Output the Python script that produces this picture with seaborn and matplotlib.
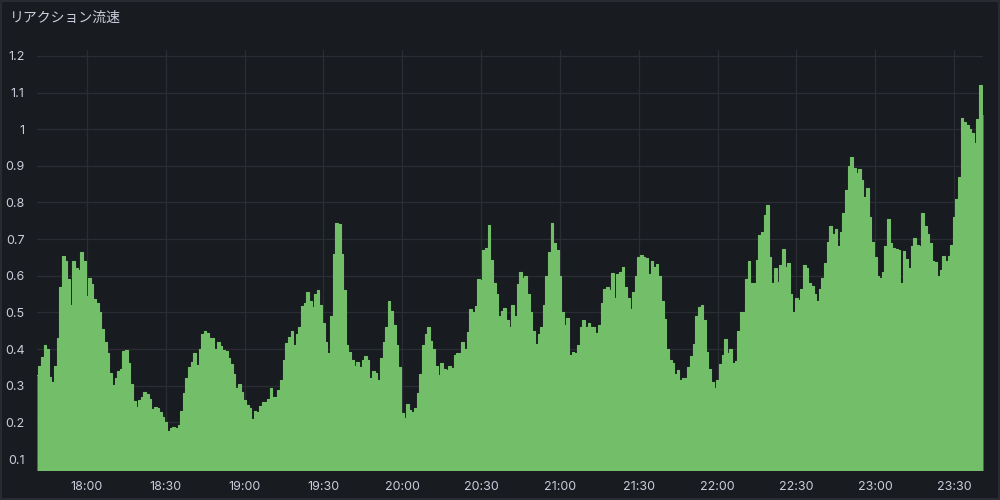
import numpy as np
import pandas as pd
import matplotlib
matplotlib.use('Agg')
import matplotlib.pyplot as plt
import matplotlib.dates as mdates
import seaborn as sns

# --- Data (1-minute samples, 17:41 -> 23:41) ---
start_time = '2024-01-01 17:41'
step = '1min'
rate = [
    0.33, 0.355, 0.378, 0.41, 0.40, 0.325, 0.31, 0.354, 0.431, 0.57,
    0.655, 0.64, 0.59, 0.52, 0.64, 0.622, 0.615, 0.665, 0.64, 0.545,
    0.595, 0.578, 0.536, 0.525, 0.50, 0.455, 0.418, 0.389, 0.335, 0.303,
    0.322, 0.34, 0.345, 0.395, 0.398, 0.363, 0.305, 0.259, 0.241, 0.26,
    0.268, 0.282, 0.277, 0.265, 0.236, 0.242, 0.238, 0.229, 0.215, 0.20,
    0.177, 0.184, 0.186, 0.184, 0.192, 0.232, 0.28, 0.32, 0.35, 0.365,
    0.39, 0.356, 0.40, 0.44, 0.45, 0.445, 0.43, 0.43, 0.40, 0.42,
    0.408, 0.398, 0.395, 0.375, 0.36, 0.332, 0.295, 0.305, 0.282, 0.262,
    0.247, 0.24, 0.209, 0.232, 0.229, 0.245, 0.255, 0.255, 0.265, 0.295,
    0.27, 0.27, 0.288, 0.315, 0.37, 0.416, 0.432, 0.45, 0.41, 0.44,
    0.46, 0.518, 0.525, 0.555, 0.53, 0.515, 0.55, 0.56, 0.52, 0.47,
    0.418, 0.39, 0.49, 0.66, 0.745, 0.74, 0.66, 0.56, 0.41, 0.391,
    0.37, 0.355, 0.365, 0.35, 0.37, 0.38, 0.37, 0.32, 0.34, 0.336,
    0.315, 0.375, 0.42, 0.46, 0.53, 0.505, 0.465, 0.41, 0.35, 0.225,
    0.213, 0.25, 0.235, 0.228, 0.238, 0.28, 0.331, 0.41, 0.44, 0.46,
    0.422, 0.40, 0.354, 0.33, 0.361, 0.345, 0.343, 0.354, 0.348, 0.383,
    0.39, 0.388, 0.42, 0.40, 0.447, 0.51, 0.50, 0.518, 0.59, 0.589,
    0.67, 0.675, 0.738, 0.643, 0.58, 0.55, 0.49, 0.505, 0.511, 0.48,
    0.46, 0.52, 0.49, 0.577, 0.61, 0.595, 0.60, 0.55, 0.502, 0.45,
    0.413, 0.44, 0.46, 0.52, 0.60, 0.665, 0.744, 0.69, 0.67, 0.60,
    0.50, 0.465, 0.486, 0.383, 0.392, 0.39, 0.41, 0.46, 0.48, 0.46,
    0.47, 0.46, 0.46, 0.445, 0.465, 0.527, 0.565, 0.57, 0.56, 0.607,
    0.54, 0.605, 0.611, 0.625, 0.57, 0.54, 0.51, 0.555, 0.60, 0.652,
    0.658, 0.65, 0.648, 0.605, 0.64, 0.625, 0.632, 0.60, 0.53, 0.482,
    0.40, 0.37, 0.363, 0.332, 0.343, 0.315, 0.322, 0.32, 0.35, 0.38,
    0.415, 0.49, 0.515, 0.52, 0.48, 0.393, 0.345, 0.31, 0.293, 0.316,
    0.36, 0.385, 0.427, 0.39, 0.40, 0.363, 0.368, 0.448, 0.50, 0.50,
    0.59, 0.64, 0.58, 0.58, 0.643, 0.71, 0.72, 0.765, 0.794, 0.65,
    0.58, 0.62, 0.582, 0.63, 0.674, 0.625, 0.635, 0.55, 0.50, 0.538,
    0.535, 0.563, 0.63, 0.622, 0.58, 0.572, 0.55, 0.53, 0.565, 0.595,
    0.634, 0.693, 0.737, 0.714, 0.727, 0.68, 0.72, 0.771, 0.835, 0.90,
    0.925, 0.895, 0.88, 0.89, 0.86, 0.816, 0.84, 0.76, 0.691, 0.65,
    0.60, 0.595, 0.61, 0.68, 0.756, 0.69, 0.677, 0.673, 0.67, 0.58,
    0.668, 0.645, 0.62, 0.68, 0.703, 0.685, 0.68, 0.77, 0.735, 0.713,
    0.69, 0.64, 0.637, 0.60, 0.615, 0.655, 0.64, 0.655, 0.685, 0.76,
    0.809, 0.87, 1.03, 1.02, 1.01, 1.0, 0.99, 0.963, 1.027, 1.12,
    1.04,
]
y_ticks = [0.1, 0.2, 0.3, 0.4, 0.5, 0.6, 0.7, 0.8, 0.9, 1.0, 1.1, 1.2]
y_tick_labels = ['0.1', '0.2', '0.3', '0.4', '0.5', '0.6', '0.7', '0.8', '0.9', '1', '1.1', '1.2']
title = 'リアクション流速'

df = pd.DataFrame({
    'time': pd.date_range(start_time, periods=len(rate), freq=step),
    'rate': rate,
})

# --- Style (Grafana dark panel) ---
bg = '#181b1f'
grid = '#2a2d33'
text = '#ccccdc'
green = '#73bf69'

sns.set_theme(style='dark', rc={
    'figure.facecolor': bg,
    'axes.facecolor': bg,
    'axes.edgecolor': bg,
    'grid.color': grid,
    'xtick.color': text,
    'ytick.color': text,
})
plt.rcParams['font.family'] = ['Inter', 'Noto Sans CJK JP', 'DejaVu Sans']

fig = plt.figure(figsize=(10, 5), dpi=100)
ax = fig.add_axes([0.037, 0.06, 0.946, 0.84])

sns.lineplot(data=df, x='time', y='rate', ax=ax, color=green, linewidth=0.8,
             drawstyle='steps-mid', legend=False)
ax.fill_between(df['time'], df['rate'], 0, step='mid', color=green, alpha=1.0, linewidth=0)

ax.set_xlim(df['time'].iloc[0], df['time'].iloc[-1])
ax.set_ylim(0.07, 1.216)
ax.set_yticks(y_ticks)
ax.set_yticklabels(y_tick_labels)
ax.xaxis.set_major_locator(mdates.MinuteLocator(byminute=[0, 30]))
ax.xaxis.set_major_formatter(mdates.DateFormatter('%H:%M'))
ax.grid(True, color=grid, linewidth=0.9)
ax.set_axisbelow(True)
ax.set_xlabel('')
ax.set_ylabel('')
ax.tick_params(axis='both', labelsize=9, colors=text, length=3, width=0.8, pad=5)
ax.tick_params(axis='x', color=grid)
ax.tick_params(axis='y', color=grid, pad=6)
for s in ax.spines.values():
    s.set_visible(False)

fig.text(0.01, 0.965, title, color=text, fontsize=10, ha='left', va='center',
         family=['Noto Sans CJK JP', 'DejaVu Sans'])

# panel border
fig.patches.append(plt.Rectangle((0.001, 0.002), 0.998, 0.996, transform=fig.transFigure,
                                 fill=False, edgecolor='#2c3036', linewidth=1.2))

fig.savefig('out.png', dpi=100, facecolor=bg)
